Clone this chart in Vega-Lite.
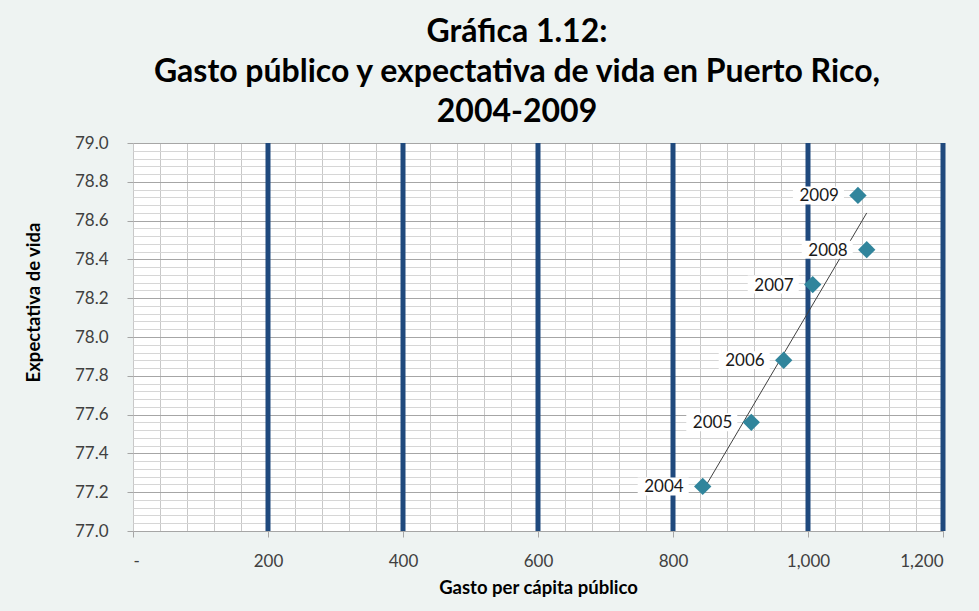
{
  "$schema": "https://vega.github.io/schema/vega-lite/v6.json",
  "autosize": {"type": "none"},
  "width": 810,
  "height": 388,
  "padding": {"left": 133, "top": 143, "right": 36, "bottom": 80},
  "background": "#EEF3F2",
  "config": {
    "font": "Lato",
    "view": {"fill": "white", "stroke": null}
  },
  "title": {
    "text": ["Gráfica 1.12:", "Gasto público y expectativa de vida en Puerto Rico,", "2004-2009"],
    "font": "Lato",
    "fontSize": 32,
    "fontWeight": "bold",
    "color": "black",
    "lineHeight": 40,
    "anchor": "middle",
    "frame": "group",
    "dx": -21,
    "offset": 5
  },
  "data": {
    "values": [
      {"anio": "2004", "gasto": 844, "expectativa": 77.23},
      {"anio": "2005", "gasto": 916, "expectativa": 77.56},
      {"anio": "2006", "gasto": 964, "expectativa": 77.88},
      {"anio": "2007", "gasto": 1007, "expectativa": 78.27},
      {"anio": "2008", "gasto": 1087, "expectativa": 78.45},
      {"anio": "2009", "gasto": 1074, "expectativa": 78.73}
    ]
  },
  "resolve": {"axis": {"x": "independent", "y": "independent"}},
  "layer": [
    {
      "description": "Minor gridlines (every 40 on x, every 0.04 on y)",
      "mark": {"type": "point", "opacity": 0},
      "encoding": {
        "x": {
          "field": "gasto", "type": "quantitative",
          "scale": {"domain": [0, 1200], "nice": false, "zero": false},
          "axis": {
            "orient": "bottom", "title": null, "labels": false, "ticks": false, "domain": false,
            "grid": true, "gridColor": "#C8C8C8", "gridWidth": 1,
            "values": [0,40,80,120,160,200,240,280,320,360,400,440,480,520,560,600,640,680,720,760,800,840,880,920,960,1000,1040,1080,1120,1160,1200]
          }
        },
        "y": {
          "field": "expectativa", "type": "quantitative",
          "scale": {"domain": [77, 79], "nice": false, "zero": false},
          "axis": {
            "orient": "left", "title": null, "labels": false, "ticks": false, "domain": false,
            "grid": true, "gridColor": "#D6D6D6", "gridWidth": 1,
            "values": [77,77.04,77.08,77.12,77.16,77.2,77.24,77.28,77.32,77.36,77.4,77.44,77.48,77.52,77.56,77.6,77.64,77.68,77.72,77.76,77.8,77.84,77.88,77.92,77.96,78,78.04,78.08,78.12,78.16,78.2,78.24,78.28,78.32,78.36,78.4,78.44,78.48,78.52,78.56,78.6,78.64,78.68,78.72,78.76,78.8,78.84,78.88,78.92,78.96,79]
          }
        }
      }
    },
    {
      "description": "Major horizontal gridlines and y axis",
      "mark": {"type": "point", "opacity": 0},
      "encoding": {
        "x": {"field": "gasto", "type": "quantitative", "axis": null},
        "y": {
          "field": "expectativa", "type": "quantitative",
          "axis": {
            "orient": "left",
            "values": [77, 77.2, 77.4, 77.6, 77.8, 78, 78.2, 78.4, 78.6, 78.8, 79],
            "format": ".1f",
            "grid": true, "gridColor": "#A6A6A6", "gridWidth": 1,
            "domain": false,
            "ticks": true, "tickColor": "#A6A6A6", "tickSize": 6,
            "labelFont": "Lato", "labelFontSize": 17, "labelColor": "#404040", "labelPadding": 19,
            "title": "Expectativa de vida",
            "titleFont": "Lato", "titleFontSize": 18.5, "titleFontWeight": "bold", "titleColor": "black",
            "titleAngle": -90, "titleX": -100, "titleY": 159, "titleAlign": "center", "titleBaseline": "middle"
          }
        }
      }
    },
    {
      "description": "x axis with ticks and labels",
      "mark": {"type": "point", "opacity": 0},
      "encoding": {
        "x": {
          "field": "gasto", "type": "quantitative",
          "axis": {
            "orient": "bottom",
            "values": [0, 200, 400, 600, 800, 1000, 1200],
            "labelExpr": "datum.value == 0 ? '-' : format(datum.value, ',')",
            "grid": false,
            "domain": false,
            "ticks": true, "tickColor": "#A6A6A6", "tickSize": 6,
            "labelFont": "Lato", "labelFontSize": 17, "labelColor": "#404040", "labelPadding": 16,
            "title": "Gasto per cápita público",
            "titleFont": "Lato", "titleFontSize": 18.5, "titleFontWeight": "bold", "titleColor": "black",
            "titlePadding": 9
          }
        },
        "y": {"field": "expectativa", "type": "quantitative", "axis": null}
      }
    },
    {
      "description": "Thick blue major vertical gridlines",
      "data": {"values": [{}]},
      "layer": [
        {"mark": {"type": "rule", "color": "#1F497D", "strokeWidth": 5}, "encoding": {"x": {"datum": 200, "type": "quantitative", "axis": null}}},
        {"mark": {"type": "rule", "color": "#1F497D", "strokeWidth": 5}, "encoding": {"x": {"datum": 400, "type": "quantitative", "axis": null}}},
        {"mark": {"type": "rule", "color": "#1F497D", "strokeWidth": 5}, "encoding": {"x": {"datum": 600, "type": "quantitative", "axis": null}}},
        {"mark": {"type": "rule", "color": "#1F497D", "strokeWidth": 5}, "encoding": {"x": {"datum": 800, "type": "quantitative", "axis": null}}},
        {"mark": {"type": "rule", "color": "#1F497D", "strokeWidth": 5}, "encoding": {"x": {"datum": 1000, "type": "quantitative", "axis": null}}},
        {"mark": {"type": "rule", "color": "#1F497D", "strokeWidth": 5}, "encoding": {"x": {"datum": 1200, "type": "quantitative", "axis": null}}}
      ]
    },
    {
      "description": "Linear trend line",
      "transform": [{"regression": "expectativa", "on": "gasto"}],
      "mark": {"type": "line", "color": "#404040", "strokeWidth": 1},
      "encoding": {
        "x": {"field": "gasto", "type": "quantitative", "axis": null},
        "y": {"field": "expectativa", "type": "quantitative", "axis": null}
      }
    },
    {
      "description": "White boxes behind the year labels",
      "mark": {
        "type": "point",
        "shape": "M-6.5,-0.9H-1.4V0.9H-6.5Z",
        "size": 400,
        "filled": true,
        "fill": "white",
        "opacity": 1,
        "strokeWidth": 0
      },
      "encoding": {
        "x": {"field": "gasto", "type": "quantitative", "axis": null},
        "y": {"field": "expectativa", "type": "quantitative", "axis": null}
      }
    },
    {
      "description": "Year labels",
      "mark": {"type": "text", "align": "right", "baseline": "middle", "dx": -19, "dy": 1, "font": "Lato", "fontSize": 17, "color": "#1a1a1a"},
      "encoding": {
        "x": {"field": "gasto", "type": "quantitative", "axis": null},
        "y": {"field": "expectativa", "type": "quantitative", "axis": null},
        "text": {"field": "anio"}
      }
    },
    {
      "description": "Data points",
      "mark": {"type": "point", "shape": "diamond", "filled": true, "size": 300, "color": "#31859C", "opacity": 1},
      "encoding": {
        "x": {"field": "gasto", "type": "quantitative", "axis": null},
        "y": {"field": "expectativa", "type": "quantitative", "axis": null}
      }
    }
  ]
}
